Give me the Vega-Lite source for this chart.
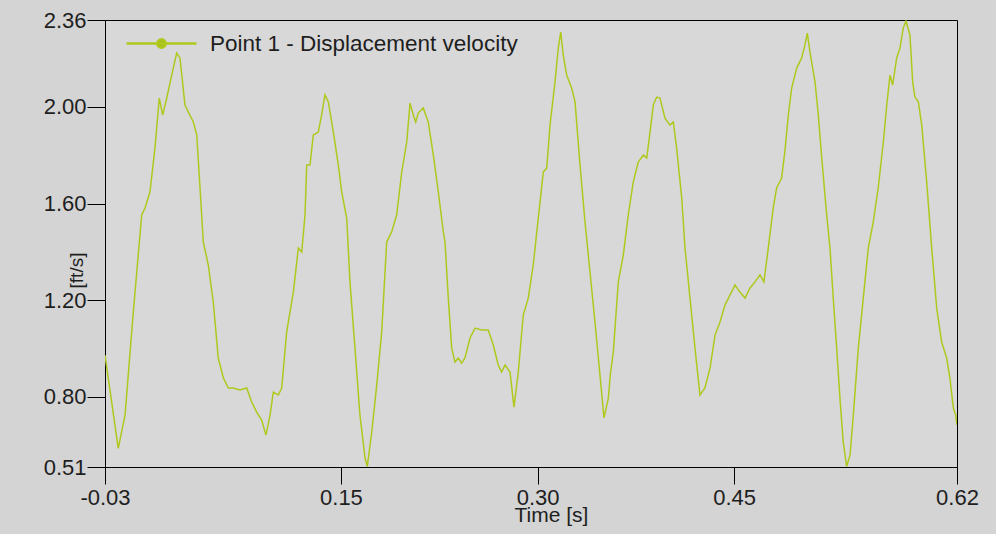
{
  "$schema": "https://vega.github.io/schema/vega-lite/v6.json",
  "width": 852,
  "height": 447,
  "autosize": {"type": "none"},
  "padding": {"left": 105, "top": 20, "right": 39, "bottom": 67},
  "background": "#d4d4d4",
  "config": {
    "view": {"fill": "#d8d8d8", "stroke": "#000000", "strokeWidth": 1},
    "font": "Liberation Sans",
    "axis": {"grid": false, "domainColor": "#000000", "tickColor": "#000000", "labelColor": "#1e1e1e", "titleColor": "#1e1e1e", "titleFontWeight": "normal", "labelFont": "Liberation Sans", "titleFont": "Liberation Sans"}
  },
  "data": {"values": [
    {"t": -0.03, "v": 0.973}, {"t": -0.0199, "v": 0.587}, {"t": -0.0147, "v": 0.725}, {"t": -0.0086, "v": 1.139},
    {"t": -0.002, "v": 1.553}, {"t": 0.0005, "v": 1.582}, {"t": 0.0043, "v": 1.648}, {"t": 0.0081, "v": 1.83},
    {"t": 0.0114, "v": 2.037}, {"t": 0.014, "v": 1.967}, {"t": 0.0171, "v": 2.037}, {"t": 0.0209, "v": 2.132},
    {"t": 0.0247, "v": 2.223}, {"t": 0.0272, "v": 2.203}, {"t": 0.031, "v": 2.008}, {"t": 0.0336, "v": 1.979},
    {"t": 0.0374, "v": 1.938}, {"t": 0.04, "v": 1.884}, {"t": 0.0425, "v": 1.665}, {"t": 0.045, "v": 1.441},
    {"t": 0.0488, "v": 1.346}, {"t": 0.0526, "v": 1.193}, {"t": 0.0564, "v": 0.961}, {"t": 0.0603, "v": 0.878},
    {"t": 0.0641, "v": 0.837}, {"t": 0.0679, "v": 0.837}, {"t": 0.073, "v": 0.829}, {"t": 0.0781, "v": 0.837},
    {"t": 0.0819, "v": 0.779}, {"t": 0.0857, "v": 0.737}, {"t": 0.0895, "v": 0.704}, {"t": 0.0928, "v": 0.642},
    {"t": 0.0959, "v": 0.725}, {"t": 0.0984, "v": 0.82}, {"t": 0.1022, "v": 0.808}, {"t": 0.1048, "v": 0.837},
    {"t": 0.1086, "v": 1.069}, {"t": 0.1137, "v": 1.234}, {"t": 0.1175, "v": 1.416}, {"t": 0.1201, "v": 1.4},
    {"t": 0.1226, "v": 1.553}, {"t": 0.1239, "v": 1.76}, {"t": 0.1264, "v": 1.76}, {"t": 0.1289, "v": 1.884},
    {"t": 0.1327, "v": 1.896}, {"t": 0.1353, "v": 1.967}, {"t": 0.1378, "v": 2.05}, {"t": 0.1404, "v": 2.021},
    {"t": 0.1442, "v": 1.896}, {"t": 0.148, "v": 1.76}, {"t": 0.1506, "v": 1.648}, {"t": 0.1544, "v": 1.54},
    {"t": 0.1569, "v": 1.276}, {"t": 0.1607, "v": 1.002}, {"t": 0.1645, "v": 0.725}, {"t": 0.1684, "v": 0.547},
    {"t": 0.1701, "v": 0.512}, {"t": 0.1735, "v": 0.655}, {"t": 0.1773, "v": 0.849}, {"t": 0.1811, "v": 1.069},
    {"t": 0.1849, "v": 1.441}, {"t": 0.1887, "v": 1.483}, {"t": 0.1925, "v": 1.553}, {"t": 0.1964, "v": 1.731},
    {"t": 0.2002, "v": 1.855}, {"t": 0.2027, "v": 2.016}, {"t": 0.2052, "v": 1.967}, {"t": 0.207, "v": 1.938},
    {"t": 0.209, "v": 1.975}, {"t": 0.2128, "v": 1.996}, {"t": 0.2166, "v": 1.938}, {"t": 0.2205, "v": 1.801},
    {"t": 0.2243, "v": 1.648}, {"t": 0.2281, "v": 1.483}, {"t": 0.2294, "v": 1.441}, {"t": 0.2319, "v": 1.209},
    {"t": 0.2345, "v": 1.002}, {"t": 0.237, "v": 0.944}, {"t": 0.2395, "v": 0.961}, {"t": 0.2421, "v": 0.94},
    {"t": 0.2446, "v": 0.961}, {"t": 0.2485, "v": 1.044}, {"t": 0.2523, "v": 1.085}, {"t": 0.2574, "v": 1.077},
    {"t": 0.2624, "v": 1.077}, {"t": 0.2662, "v": 1.015}, {"t": 0.27, "v": 0.932}, {"t": 0.2726, "v": 0.903},
    {"t": 0.2752, "v": 0.932}, {"t": 0.279, "v": 0.903}, {"t": 0.282, "v": 0.758}, {"t": 0.2853, "v": 0.903},
    {"t": 0.2891, "v": 1.139}, {"t": 0.2929, "v": 1.209}, {"t": 0.2967, "v": 1.346}, {"t": 0.3019, "v": 1.607},
    {"t": 0.3044, "v": 1.731}, {"t": 0.307, "v": 1.747}, {"t": 0.3095, "v": 1.925}, {"t": 0.3133, "v": 2.103},
    {"t": 0.3158, "v": 2.244}, {"t": 0.3177, "v": 2.31}, {"t": 0.3196, "v": 2.215}, {"t": 0.3222, "v": 2.132},
    {"t": 0.326, "v": 2.079}, {"t": 0.3286, "v": 2.021}, {"t": 0.3324, "v": 1.76}, {"t": 0.3362, "v": 1.524},
    {"t": 0.34, "v": 1.317}, {"t": 0.3438, "v": 1.11}, {"t": 0.3476, "v": 0.891}, {"t": 0.3507, "v": 0.713},
    {"t": 0.354, "v": 0.795}, {"t": 0.3555, "v": 0.891}, {"t": 0.3578, "v": 0.986}, {"t": 0.3616, "v": 1.276},
    {"t": 0.3654, "v": 1.387}, {"t": 0.3692, "v": 1.553}, {"t": 0.373, "v": 1.689}, {"t": 0.3768, "v": 1.772},
    {"t": 0.3807, "v": 1.801}, {"t": 0.3833, "v": 1.789}, {"t": 0.3858, "v": 1.896}, {"t": 0.3883, "v": 2.008},
    {"t": 0.3909, "v": 2.041}, {"t": 0.3934, "v": 2.037}, {"t": 0.3972, "v": 1.954}, {"t": 0.401, "v": 1.925},
    {"t": 0.4036, "v": 1.938}, {"t": 0.4061, "v": 1.83}, {"t": 0.41, "v": 1.623}, {"t": 0.4125, "v": 1.416},
    {"t": 0.4163, "v": 1.209}, {"t": 0.4201, "v": 1.002}, {"t": 0.4239, "v": 0.808}, {"t": 0.4277, "v": 0.837},
    {"t": 0.4316, "v": 0.92}, {"t": 0.4354, "v": 1.056}, {"t": 0.4392, "v": 1.11}, {"t": 0.443, "v": 1.18},
    {"t": 0.4468, "v": 1.222}, {"t": 0.4506, "v": 1.263}, {"t": 0.4544, "v": 1.234}, {"t": 0.4583, "v": 1.209},
    {"t": 0.4621, "v": 1.251}, {"t": 0.4659, "v": 1.276}, {"t": 0.4697, "v": 1.305}, {"t": 0.4727, "v": 1.276},
    {"t": 0.476, "v": 1.416}, {"t": 0.4798, "v": 1.582}, {"t": 0.4824, "v": 1.665}, {"t": 0.4862, "v": 1.706},
    {"t": 0.4888, "v": 1.822}, {"t": 0.4913, "v": 1.967}, {"t": 0.4939, "v": 2.079}, {"t": 0.4977, "v": 2.161},
    {"t": 0.5015, "v": 2.203}, {"t": 0.504, "v": 2.257}, {"t": 0.5058, "v": 2.306}, {"t": 0.5078, "v": 2.228},
    {"t": 0.5117, "v": 2.103}, {"t": 0.5142, "v": 1.967}, {"t": 0.5168, "v": 1.789}, {"t": 0.5206, "v": 1.553},
    {"t": 0.5231, "v": 1.416}, {"t": 0.5256, "v": 1.209}, {"t": 0.5282, "v": 1.002}, {"t": 0.5307, "v": 0.795},
    {"t": 0.5332, "v": 0.613}, {"t": 0.5358, "v": 0.512}, {"t": 0.5384, "v": 0.559}, {"t": 0.5409, "v": 0.725},
    {"t": 0.5447, "v": 1.002}, {"t": 0.5485, "v": 1.209}, {"t": 0.5523, "v": 1.416}, {"t": 0.5561, "v": 1.524},
    {"t": 0.5599, "v": 1.665}, {"t": 0.5638, "v": 1.855}, {"t": 0.5664, "v": 2.008}, {"t": 0.5689, "v": 2.132},
    {"t": 0.5709, "v": 2.091}, {"t": 0.574, "v": 2.203}, {"t": 0.5765, "v": 2.244}, {"t": 0.579, "v": 2.327},
    {"t": 0.5811, "v": 2.356}, {"t": 0.5841, "v": 2.298}, {"t": 0.5862, "v": 2.103}, {"t": 0.5879, "v": 2.041},
    {"t": 0.5905, "v": 2.021}, {"t": 0.5931, "v": 1.925}, {"t": 0.5969, "v": 1.689}, {"t": 0.6007, "v": 1.416},
    {"t": 0.6045, "v": 1.168}, {"t": 0.6083, "v": 1.027}, {"t": 0.6121, "v": 0.961}, {"t": 0.6146, "v": 0.878},
    {"t": 0.6172, "v": 0.754}, {"t": 0.619, "v": 0.725}, {"t": 0.62, "v": 0.684}
  ]},
  "mark": {"type": "line", "strokeWidth": 1.5, "clip": true},
  "encoding": {
    "x": {
      "field": "t", "type": "quantitative",
      "scale": {"domain": [-0.03, 0.62], "nice": false, "zero": false},
      "axis": {"values": [-0.03, 0.15, 0.3, 0.45, 0.62], "labelExpr": "replace(format(datum.value, '.2f'), '\u2212', '-')", "title": "Time [s]", "tickSize": 17, "labelPadding": 3, "labelFontSize": 22, "labelFlush": false, "labelOverlap": false, "titleFontSize": 21, "titleX": 446, "titleY": 48, "titleBaseline": "middle", "titleAlign": "center"}
    },
    "y": {
      "field": "v", "type": "quantitative",
      "scale": {"domain": [0.51, 2.36], "nice": false, "zero": false},
      "axis": {"values": [0.51, 0.8, 1.2, 1.6, 2.0, 2.36], "format": ".2f", "title": "[ft/s]", "tickSize": 18, "labelPadding": 1, "labelFontSize": 22, "labelFlush": false, "labelOverlap": false, "titleFontSize": 19, "titleX": -29, "titleY": 250, "titleBaseline": "middle", "titleAlign": "center", "titleAngle": -90}
    },
    "color": {
      "datum": "Point 1 - Displacement velocity", "type": "nominal",
      "scale": {"range": ["#b0c81e"]},
      "legend": {"title": null, "orient": "none", "legendX": 20, "legendY": -13, "padding": 0, "symbolType": "M-1,0H1M0.12,0A0.12,0.12,0,1,1,-0.12,0A0.12,0.12,0,1,1,0.12,0Z", "symbolSize": 4900, "symbolStrokeWidth": 2.5, "symbolFillColor": "#a4bd18", "labelFontSize": 22.5, "labelColor": "#1e1e1e", "labelOffset": 12, "labelLimit": 0, "labelFont": "Liberation Sans",
        "encode": {"symbols": {"update": {"fill": {"value": "#a4bd18"}, "stroke": {"value": "#a4bd18"}}}}}
    }
  }
}
